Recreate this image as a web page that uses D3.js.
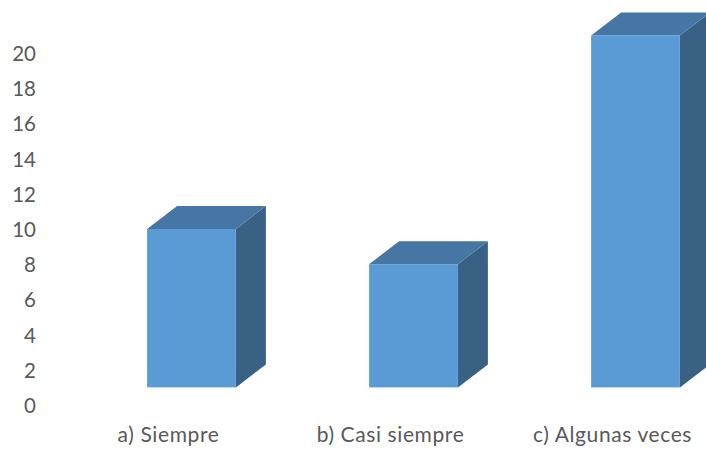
<!DOCTYPE html>
<html><head><meta charset="utf-8">
<script src="https://cdn.jsdelivr.net/npm/d3@7"></script>
<style>html,body{margin:0;padding:0;background:#fff}svg{display:block}text{font-family:Lato,"Open Sans",sans-serif;fill:#595959}</style>
</head><body><div id="chart"></div>
<script>
const categories = ["a) Siempre", "b) Casi siempre", "c) Algunas veces"];
const values = [10, 8, 21];
const yTicks = [0, 2, 4, 6, 8, 10, 12, 14, 16, 18, 20];
const floorValue = 1;

const W = 706, H = 450, depthX = 30, depthY = 23;
const svg = d3.select("#chart").append("svg").attr("width", W).attr("height", H);
const y = d3.scaleLinear().domain([0, 20]).range([405, 53]);
const x = d3.scaleBand().domain(categories).range([80.5, 746.5]).paddingInner(0.6).paddingOuter(0.3);

const yAxis = svg.append("g").attr("transform", "translate(36,1)")
  .call(d3.axisLeft(y).tickValues(yTicks).tickSize(0).tickPadding(0));
yAxis.select(".domain").remove();
yAxis.selectAll("text").style("font-size", "20.5px").attr("fill", "#595959");

const xAxis = svg.append("g").attr("transform", "translate(-23,427)")
  .call(d3.axisBottom(x).tickSize(0).tickPadding(0));
xAxis.select(".domain").remove();
xAxis.selectAll("text").style("font-size", "21px").style("letter-spacing", "0.6px").attr("fill", "#595959");

const bars = svg.append("g").selectAll("g").data(values).join("g");
const path = (pts) => d3.line()(pts) + "Z";
bars.append("path").attr("fill", "#386184").attr("d", (d, i) => {
  const r = x(categories[i]) + x.bandwidth(), t = y(d), b = y(floorValue);
  return path([[r, t], [r + depthX, t - depthY], [r + depthX, b - depthY], [r, b]]);
});
bars.append("path").attr("fill", "#4676A3").attr("d", (d, i) => {
  const l = x(categories[i]), r = l + x.bandwidth(), t = y(d);
  return path([[l, t], [l + depthX, t - depthY], [r + depthX, t - depthY], [r, t]]);
});
bars.append("rect").attr("fill", "#5B9BD5")
  .attr("x", (d, i) => x(categories[i])).attr("width", x.bandwidth())
  .attr("y", d => y(d)).attr("height", d => y(floorValue) - y(d));
</script></body></html>
